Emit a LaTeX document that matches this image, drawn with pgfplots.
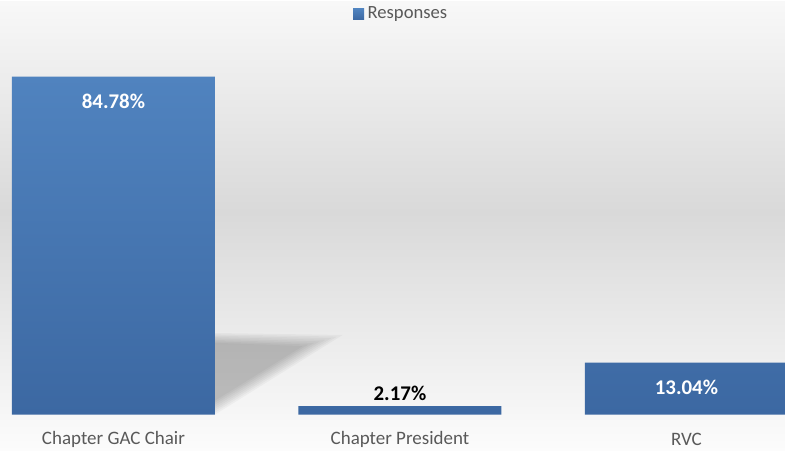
\documentclass[border=0pt]{standalone}
\usepackage{fontspec}
\setmainfont{Carlito}
\usepackage{pgfplots}
\pgfplotsset{compat=1.18}

\definecolor{bartop}{RGB}{80,131,191}
\definecolor{barbot}{RGB}{60,104,162}
\definecolor{txtgray}{RGB}{89,89,89}

\begin{document}
\begin{tikzpicture}
% background, 1px = 0.02cm
\shade[top color={rgb,255:red,248;green,248;blue,248}, bottom color={rgb,255:red,217;green,217;blue,217}]
  (0,4.06) rectangle (15.7,8.26);
\shade[top color={rgb,255:red,217;green,217;blue,217}, bottom color={rgb,255:red,252;green,252;blue,252}]
  (0,-0.72) rectangle (15.7,4.06);

\begin{axis}[
    at={(0,0)}, anchor=south west,
    scale only axis,
    width=15.7cm, height=8.26cm,
    xmin=-0.396, xmax=2.344,
    ymin=0, ymax=103.6,
    axis line style={draw=none},
    ytick=\empty,
    xtick={0,1,2},
    xticklabels={Chapter GAC Chair, Chapter President, RVC},
    xtick style={draw=none},
    x tick label style={font=\fontsize{10.8}{13}\selectfont, text=txtgray, anchor=center, yshift=-0.5cm},
    legend style={at={(0.512,1.005)}, anchor=north, draw=none, fill=none,
        font=\fontsize{10.6}{12}\selectfont, text=txtgray},
    legend image code/.code={\fill[bartop] (0cm,-0.11cm) rectangle (0.22cm,0.11cm);},
]
% soft shadow behind the first bar
\pgfplotsinvokeforeach{0,...,7}{
  \fill[black, opacity=0.03]
    (axis cs:0.354,{0.5*#1}) -- (axis cs:0.354,{20.5-0.35*#1})
    -- (axis cs:{0.80-0.02*#1},{20.0-0.4*#1}) -- cycle;
}

\addplot[ybar, bar width=4.06cm, bar shift=0pt, draw=none,
    top color=bartop, bottom color=barbot]
  coordinates {(0,84.78) (1,2.17) (2,13.04)};
\addlegendentry{Responses}

\addplot[draw=none, bar shift=0pt, forget plot,
    point meta=explicit symbolic,
    nodes near coords,
    nodes near coords style={anchor=center, yshift=-0.5cm, text=white,
        font=\fontsize{11.9}{14}\selectfont\bfseries}]
  coordinates {(0,84.78)[84.78\%] (2,13.04)[13.04\%]};

\addplot[draw=none, bar shift=0pt, forget plot,
    point meta=explicit symbolic,
    nodes near coords,
    nodes near coords style={anchor=center, yshift=0.26cm, text=black,
        font=\fontsize{11.9}{14}\selectfont\bfseries}]
  coordinates {(1,2.17)[2.17\%]};
\end{axis}
\end{tikzpicture}
\end{document}
